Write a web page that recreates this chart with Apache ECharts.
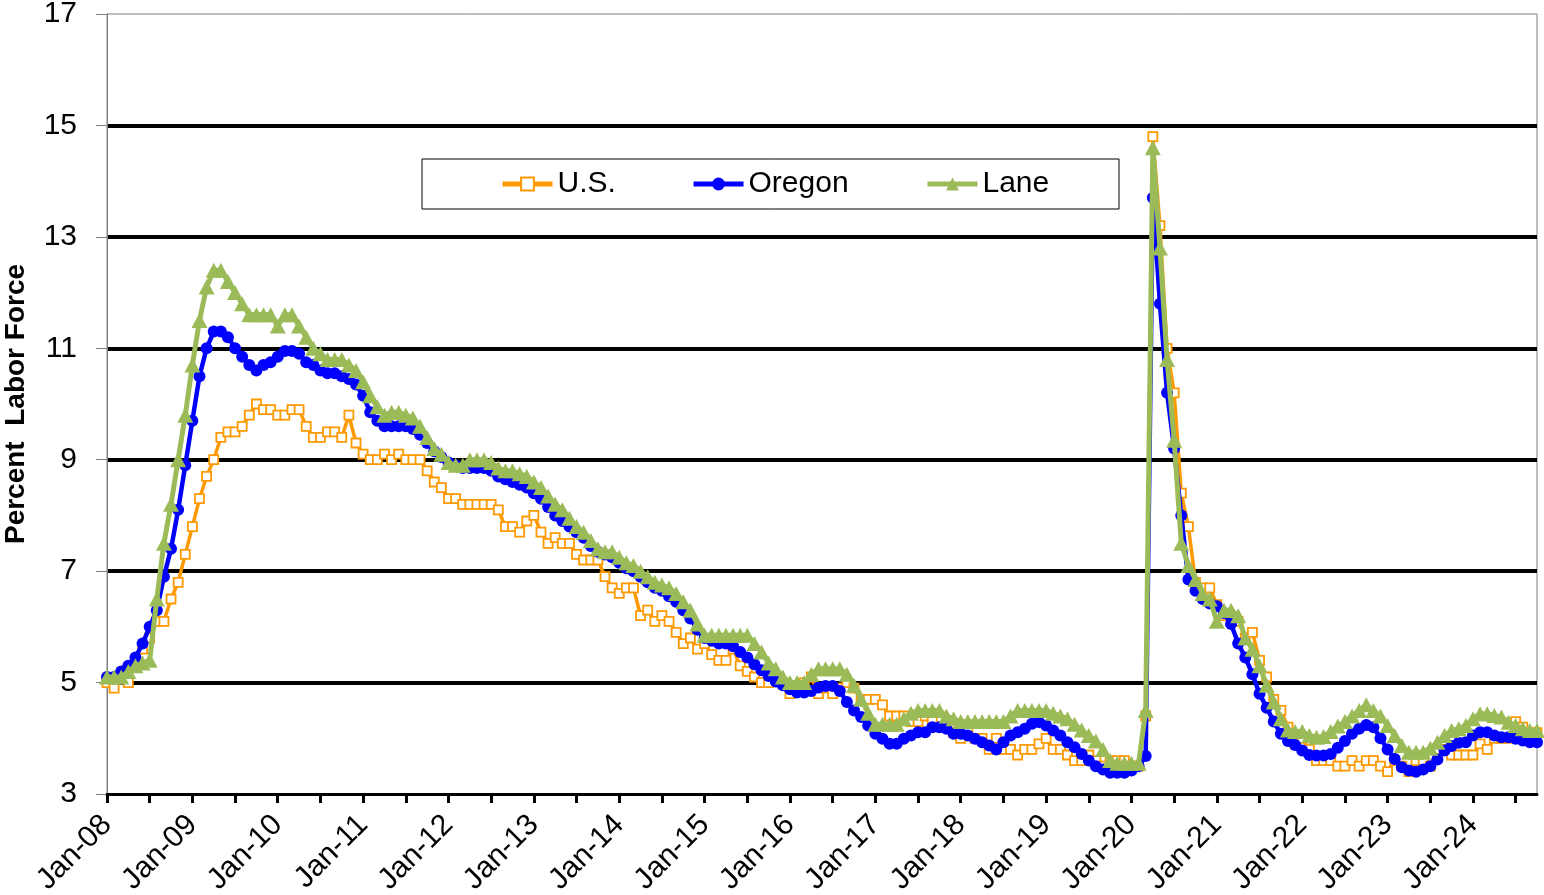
<!DOCTYPE html>
<html>
<head>
<meta charset="utf-8">
<script src="https://cdn.jsdelivr.net/npm/echarts@6/dist/echarts.min.js"></script>
<style>
html,body{margin:0;padding:0;background:#fff;}
#chart{width:1544px;height:895px;}
</style>
</head>
<body>
<div id="chart"></div>
<script>
// ---- Data (monthly, Jan-08 .. Oct-24) ----
const monthNames = ['Jan','Feb','Mar','Apr','May','Jun','Jul','Aug','Sep','Oct','Nov','Dec'];
const yearLabels = ['08','09','10','11','12','13','14','15','16','17','18','19','20','21','22','23','24'];
const lastYearMonths = 10; // data ends Oct-24

const usRate = [
  5.0,4.9,5.1,5.0,5.4,5.6,5.8,6.1,6.1,6.5,6.8,7.3,
  7.8,8.3,8.7,9.0,9.4,9.5,9.5,9.6,9.8,10.0,9.9,9.9,
  9.8,9.8,9.9,9.9,9.6,9.4,9.4,9.5,9.5,9.4,9.8,9.3,
  9.1,9.0,9.0,9.1,9.0,9.1,9.0,9.0,9.0,8.8,8.6,8.5,
  8.3,8.3,8.2,8.2,8.2,8.2,8.2,8.1,7.8,7.8,7.7,7.9,
  8.0,7.7,7.5,7.6,7.5,7.5,7.3,7.2,7.2,7.2,6.9,6.7,
  6.6,6.7,6.7,6.2,6.3,6.1,6.2,6.1,5.9,5.7,5.8,5.6,
  5.7,5.5,5.4,5.4,5.6,5.3,5.2,5.1,5.0,5.0,5.1,5.0,
  4.8,4.9,5.0,5.1,4.8,4.9,4.8,4.9,5.0,4.9,4.7,4.7,
  4.7,4.6,4.4,4.4,4.4,4.3,4.3,4.4,4.3,4.2,4.2,4.1,
  4.0,4.1,4.0,4.0,3.8,4.0,3.8,3.8,3.7,3.8,3.8,3.9,
  4.0,3.8,3.8,3.7,3.6,3.6,3.7,3.6,3.5,3.6,3.6,3.6,
  3.5,3.5,4.4,14.8,13.2,11.0,10.2,8.4,7.8,6.8,6.7,6.7,
  6.4,6.2,6.1,6.1,5.8,5.9,5.4,5.1,4.7,4.5,4.2,3.9,
  4.0,3.8,3.6,3.6,3.6,3.5,3.5,3.6,3.5,3.6,3.6,3.5,
  3.4,3.6,3.5,3.4,3.6,3.6,3.5,3.8,3.8,3.7,3.7,3.7,
  3.7,3.9,3.8,4.0,4.0,4.0,4.3,4.2,4.1,4.1
];

const oregonRate = [
  5.1,5.1,5.2,5.3,5.45,5.7,6.0,6.3,6.9,7.4,8.1,8.9,
  9.7,10.5,11.0,11.3,11.3,11.2,11.0,10.85,10.7,10.6,10.7,10.75,
  10.85,10.95,10.95,10.9,10.75,10.7,10.6,10.55,10.55,10.5,10.45,10.35,
  10.15,9.85,9.7,9.6,9.6,9.6,9.6,9.55,9.45,9.3,9.15,9.05,
  8.95,8.9,8.85,8.85,8.85,8.85,8.8,8.7,8.65,8.6,8.55,8.5,
  8.4,8.3,8.15,8.0,7.9,7.8,7.7,7.6,7.45,7.35,7.3,7.25,
  7.15,7.05,7.0,6.9,6.8,6.7,6.65,6.55,6.45,6.3,6.15,5.95,
  5.8,5.75,5.7,5.7,5.65,5.55,5.45,5.33,5.22,5.12,5.02,4.95,
  4.88,4.82,4.82,4.85,4.91,4.94,4.94,4.85,4.65,4.5,4.38,4.23,
  4.08,3.99,3.9,3.9,3.99,4.05,4.11,4.11,4.2,4.2,4.17,4.08,
  4.08,4.05,3.99,3.93,3.87,3.8,3.93,4.05,4.11,4.17,4.26,4.29,
  4.23,4.14,4.05,3.93,3.84,3.72,3.6,3.5,3.44,3.38,3.38,3.38,
  3.42,3.5,3.68,13.7,11.8,10.2,9.2,8.0,6.85,6.65,6.5,6.42,
  6.37,6.25,6.05,5.7,5.45,5.15,4.8,4.55,4.3,4.08,3.95,3.88,
  3.78,3.7,3.69,3.69,3.72,3.83,3.95,4.08,4.17,4.24,4.2,4.0,
  3.8,3.63,3.48,3.42,3.4,3.44,3.5,3.62,3.78,3.86,3.92,3.93,
  4.05,4.11,4.11,4.05,4.02,4.02,3.99,3.96,3.93,3.93
];

const laneRate = [
  5.1,5.1,5.1,5.2,5.3,5.35,5.4,6.5,7.5,8.2,9.0,9.8,
  10.7,11.5,12.1,12.4,12.4,12.2,12.0,11.8,11.6,11.6,11.6,11.6,
  11.4,11.6,11.6,11.4,11.2,11.0,10.9,10.8,10.8,10.8,10.7,10.6,
  10.4,10.15,9.95,9.8,9.85,9.85,9.8,9.75,9.6,9.4,9.2,9.1,
  8.95,8.9,8.9,9.0,9.0,9.0,8.95,8.85,8.8,8.8,8.75,8.7,
  8.6,8.5,8.35,8.2,8.1,7.95,7.8,7.7,7.55,7.4,7.35,7.35,
  7.25,7.15,7.1,7.0,6.9,6.8,6.75,6.7,6.6,6.45,6.3,6.05,
  5.85,5.85,5.85,5.85,5.85,5.85,5.85,5.7,5.55,5.35,5.25,5.1,
  5.0,5.0,5.0,5.15,5.25,5.25,5.25,5.25,5.15,4.95,4.7,4.45,
  4.25,4.25,4.25,4.25,4.35,4.45,4.5,4.5,4.5,4.5,4.4,4.35,
  4.3,4.3,4.3,4.3,4.3,4.3,4.3,4.4,4.5,4.5,4.5,4.5,
  4.5,4.45,4.4,4.35,4.25,4.15,4.05,3.95,3.8,3.6,3.55,3.55,
  3.55,3.55,4.5,14.6,12.8,10.8,9.35,7.5,7.1,6.85,6.6,6.5,
  6.1,6.3,6.3,6.2,5.8,5.6,5.3,4.95,4.65,4.35,4.15,4.12,
  4.12,4.05,4.02,4.03,4.12,4.22,4.3,4.4,4.5,4.6,4.5,4.4,
  4.23,4.05,3.87,3.75,3.75,3.75,3.82,3.93,4.05,4.14,4.17,4.23,
  4.35,4.44,4.44,4.41,4.38,4.29,4.23,4.17,4.14,4.14
];

const yTicks = {min: 3, max: 17, interval: 2};
const seriesNames = ['U.S.', 'Oregon', 'Lane'];
const yTitle = 'Percent  Labor Force';

// category labels Jan-08 ... Oct-24
const categories = [];
yearLabels.forEach(function (y, yi) {
  const n = (yi === yearLabels.length - 1) ? lastYearMonths : 12;
  for (let m = 0; m < n; m++) categories.push(monthNames[m] + '-' + y);
});

const FONT = '"Liberation Sans", Arial, Helvetica, sans-serif';

const chart = echarts.init(document.getElementById('chart'), null, {renderer: 'canvas'});
function legendFor(name, left) {
  return {
    data: [name],
    left: left,
    top: 169,
    orient: 'horizontal',
    padding: 0,
    itemWidth: 50,
    itemHeight: 16,
    selectedMode: false,
    lineStyle: {width: 5},
    textStyle: {fontSize: 30, color: '#000', fontFamily: FONT}
  };
}
chart.setOption({
  animation: false,
  backgroundColor: '#ffffff',
  textStyle: {fontFamily: FONT},
  grid: {
    left: 107, right: 7, top: 14, bottom: 101,
    show: true, borderColor: '#808080', borderWidth: 1, backgroundColor: 'transparent',
    containLabel: false,
    outerBoundsMode: 'none'
  },
  graphic: [{
    type: 'rect',
    z: 0,
    shape: {x: 422, y: 159, width: 697, height: 50},
    style: {fill: '#ffffff', stroke: '#000000', lineWidth: 1}
  }],
  legend: [
    legendFor(seriesNames[0], 500),
    legendFor(seriesNames[1], 691),
    legendFor(seriesNames[2], 925)
  ],
  xAxis: {
    type: 'category',
    data: categories,
    boundaryGap: false,
    axisLine: {show: true, lineStyle: {color: '#000', width: 3}},
    axisTick: {show: true, interval: 5, length: 9, lineStyle: {color: '#000', width: 3}},
    axisLabel: {
      interval: 11, rotate: 45, margin: 26,
      fontSize: 30, color: '#000', fontFamily: FONT
    },
    splitLine: {show: false}
  },
  yAxis: {
    type: 'value',
    min: yTicks.min, max: yTicks.max, interval: yTicks.interval,
    name: yTitle,
    nameLocation: 'middle',
    nameRotate: 90,
    nameGap: 77,
    nameTextStyle: {fontSize: 28, fontWeight: 'bold', color: '#000', fontFamily: FONT},
    axisLine: {show: true, lineStyle: {color: '#808080', width: 1}},
    axisTick: {show: true, length: 11, lineStyle: {color: '#808080', width: 1}},
    axisLabel: {fontSize: 30, color: '#000', margin: 30, fontFamily: FONT},
    splitLine: {show: true, showMinLine: false, showMaxLine: false, lineStyle: {color: '#000', width: 4}}
  },
  series: [
    {
      name: seriesNames[0], type: 'line', data: usRate,
      symbol: 'rect', symbolSize: 9, showAllSymbol: true,
      lineStyle: {color: '#FF9900', width: 3.5},
      itemStyle: {color: '#FFFFFF', borderColor: '#FF9900', borderWidth: 1.8},
      emphasis: {disabled: true}, z: 2
    },
    {
      name: seriesNames[1], type: 'line', data: oregonRate,
      symbol: 'circle', symbolSize: 12, showAllSymbol: true,
      lineStyle: {color: '#0000FF', width: 4.5},
      itemStyle: {color: '#0000FF'},
      emphasis: {disabled: true}, z: 3
    },
    {
      name: seriesNames[2], type: 'line', data: laneRate,
      symbol: 'triangle', symbolSize: [16, 15], showAllSymbol: true,
      lineStyle: {color: '#9BBB59', width: 5},
      itemStyle: {color: '#9BBB59'},
      emphasis: {disabled: true}, z: 4
    }
  ]
});
</script>
</body>
</html>
